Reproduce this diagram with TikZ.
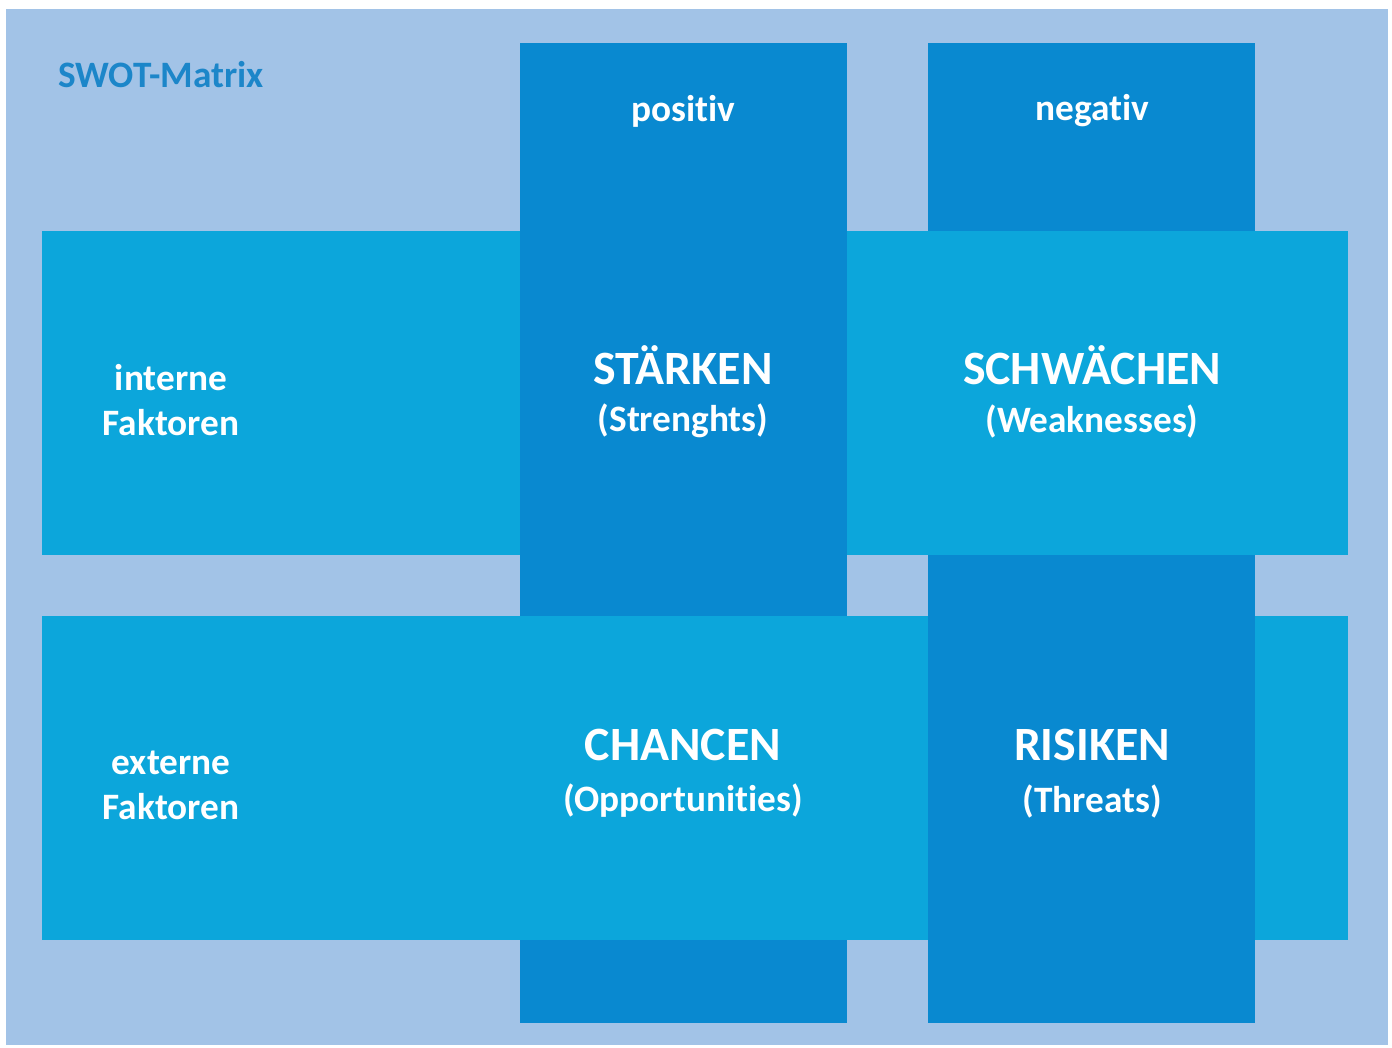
\documentclass[tikz,border=0pt]{standalone}
\usepackage{fontspec}
\setmainfont{Carlito}[RawFeature={-liga;-clig;-calt;-dlig}]
\usetikzlibrary{positioning}
\definecolor{bglight}{HTML}{A2C3E7}
\definecolor{rowblue}{HTML}{0CA6DB}
\definecolor{colblue}{HTML}{0989D0}
\definecolor{titleblue}{HTML}{1C86C9}
\begin{document}
\begin{tikzpicture}[x=0.01cm,y=-0.01cm]
        % Define styles for the bands and texts
        \tikzstyle{rowband}=[fill=rowblue]
        \tikzstyle{colband}=[fill=colblue]
        \tikzstyle{small}=[text=white,font=\bfseries\fontsize{10.6}{12.8}\selectfont,align=center,inner sep=0pt]
        \tikzstyle{big}=[text=white,font=\bfseries\fontsize{13.6}{16}\selectfont,inner sep=0pt]

        % Page and background
        \fill[white] (0,0) rectangle (1392,1047);
        \fill[bglight] (6,9) rectangle (1388,1045);

        % Draw the columns
        \fill[colband] (520,43) rectangle (847,1023);
        \fill[colband] (928,43) rectangle (1255,1023);

        % Draw the rows
        \fill[rowband] (42,231) rectangle (1348,555);
        \fill[rowband] (42,616) rectangle (1348,940);

        % Weave: column on top where it crosses
        \fill[colband] (520,231) rectangle (847,555);
        \fill[colband] (928,616) rectangle (1255,940);

        % Title
        \node[small,text=titleblue] (title) at (161,75) {SWOT-Matrix};

        % Column heads
        \node[small] (pos) at (683,111) {positiv};
        \node[small] (neg) at (1092,111) {negativ};

        % Row heads
        \node[small] (int) at (171,400) {interne\\Faktoren};
        \node[small] (ext) at (171,785) {externe\\Faktoren};

        % Quadrants
        \node[big] (s) at (683,365) {STÄRKEN};
        \node[small] (s2) at (683,421) {(Strenghts)};
        \node[big] (w) at (1092,365) {SCHWÄCHEN};
        \node[small] (w2) at (1092,421) {(Weaknesses)};
        \node[big] (o) at (683,745) {CHANCEN};
        \node[small] (o2) at (683,801) {(Opportunities)};
        \node[big] (t) at (1092,745) {RISIKEN};
        \node[small] (t2) at (1092,801) {(Threats)};
\end{tikzpicture}
\end{document}
